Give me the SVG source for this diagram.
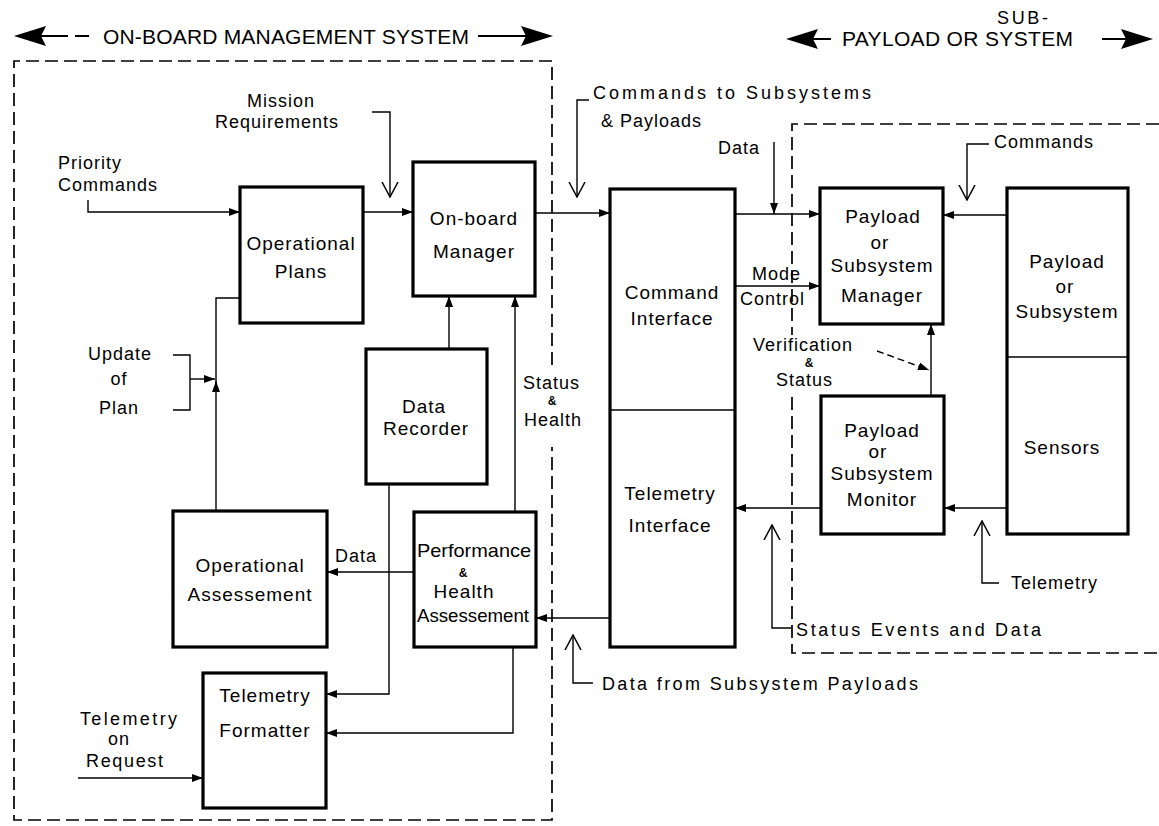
<svg xmlns="http://www.w3.org/2000/svg" width="1159" height="826" viewBox="0 0 1159 826">
<style>
text{font-family:"Liberation Sans",Arial,sans-serif;fill:#000}
.n{font-size:19px;letter-spacing:1px;text-anchor:middle}
.l{font-size:18px;letter-spacing:1px}
.h{font-size:21px;letter-spacing:1px}
.amp{font-size:12px;font-weight:bold;text-anchor:middle}
.box{fill:#fff;stroke:#000;stroke-width:3.2}
.div{stroke:#000;stroke-width:1.4;fill:none}
.c{fill:none;stroke:#000;stroke-width:1.4}
.dash{fill:none;stroke:#000;stroke-width:1.7;stroke-dasharray:13 6}
</style>
<defs>
<marker id="fa" viewBox="0 0 11 8" refX="11" refY="4" markerWidth="11" markerHeight="8" markerUnits="userSpaceOnUse" orient="auto"><path d="M0,0 L11,4 L0,8 z" fill="#000"/></marker>
<marker id="oa" viewBox="0 0 16 18" refX="15" refY="9" markerWidth="16" markerHeight="18" markerUnits="userSpaceOnUse" orient="auto"><path d="M0,1 L15,9 L0,17" fill="none" stroke="#000" stroke-width="1.5"/></marker>
</defs>

<g id="headers">
<polygon points="14,36 46,26 41,36 46,46" fill="#000"/>
<line x1="40" y1="36" x2="68" y2="36" stroke="#000" stroke-width="2"/>
<line x1="75" y1="36" x2="89" y2="36" stroke="#000" stroke-width="2"/>
<text class="h" x="103" y="44" textLength="367" lengthAdjust="spacing">ON-BOARD MANAGEMENT SYSTEM</text>
<line x1="478" y1="36" x2="527" y2="36" stroke="#000" stroke-width="2"/>
<polygon points="553,36 521,26 526,36 521,46" fill="#000"/>
<polygon points="786,39 818,29 813,39 818,49" fill="#000"/>
<line x1="812" y1="39" x2="831" y2="39" stroke="#000" stroke-width="2"/>
<text class="h" x="842" y="46" textLength="232" lengthAdjust="spacing">PAYLOAD  OR  SYSTEM</text>
<text class="l" x="997" y="24" textLength="52" lengthAdjust="spacing">SUB-</text>
<line x1="1102" y1="39" x2="1126" y2="39" stroke="#000" stroke-width="2"/>
<polygon points="1153,39 1121,29 1126,39 1121,49" fill="#000"/>
</g>

<g id="boundaries">
<path class="dash" d="M552,365 V61 H14 V820 H552 V447"/>
<path class="dash" d="M1159,124 H792 V335"/>
<path class="dash" d="M792,397 V653 H1159"/>
</g>

<g id="connectors">
<path class="c" d="M88,200 V212 H240" marker-end="url(#fa)"/>
<path class="c" d="M363,212 H413" marker-end="url(#fa)"/>
<path class="c" d="M372,112 H390 V197" marker-end="url(#oa)"/>
<path class="c" d="M535,213 H610" marker-end="url(#fa)"/>
<path class="c" d="M589,100 H577 V197" marker-end="url(#oa)"/>
<path class="c" d="M735,214 H820" marker-end="url(#fa)"/>
<path class="c" d="M774,142 V214" marker-end="url(#fa)"/>
<path class="c" d="M735,286 H820" marker-end="url(#fa)"/>
<path class="c" d="M1007,215 H943" marker-end="url(#fa)"/>
<path class="c" d="M989,144 H967 V200" marker-end="url(#oa)"/>
<path class="c" d="M931,396 V324" marker-end="url(#fa)"/>
<path class="c" d="M877,351 L929,370" stroke-dasharray="7 4" marker-end="url(#fa)"/>
<path class="c" d="M1007,508 H944" marker-end="url(#fa)"/>
<path class="c" d="M821,508 H735" marker-end="url(#fa)"/>
<path class="c" d="M999,583 H982 V521" marker-end="url(#oa)"/>
<path class="c" d="M791,628 H772 V525" marker-end="url(#oa)"/>
<path class="c" d="M610,618 H536" marker-end="url(#fa)"/>
<path class="c" d="M593,683 H573 V635" marker-end="url(#oa)"/>
<path class="c" d="M449,349 V296" marker-end="url(#fa)"/>
<path class="c" d="M515,512 V296" marker-end="url(#fa)"/>
<path class="c" d="M414,572 H327" marker-end="url(#fa)"/>
<path class="c" d="M389,484 V694 H326" marker-end="url(#fa)"/>
<path class="c" d="M513,647 V733 H326" marker-end="url(#fa)"/>
<path class="c" d="M78,778 H203" marker-end="url(#fa)"/>
<path class="c" d="M216,511 V381" marker-end="url(#fa)"/>
<path class="c" d="M216,385 V298 H240"/>
<path class="c" d="M173,355 H190 V410 H173"/>
<path class="c" d="M190,379 H215" marker-end="url(#fa)"/>
</g>

<g id="labels">
<text class="l" x="281" y="107" text-anchor="middle">Mission</text>
<text class="l" x="277" y="128" text-anchor="middle">Requirements</text>
<text class="l" x="58" y="169">Priority</text>
<text class="l" x="58" y="191">Commands</text>
<text class="l" x="120" y="360" text-anchor="middle">Update</text>
<text class="l" x="119" y="385" text-anchor="middle">of</text>
<text class="l" x="119" y="414" text-anchor="middle">Plan</text>
<text class="l" x="335" y="562">Data</text>
<text class="l" x="80" y="725" textLength="98" lengthAdjust="spacing">Telemetry</text>
<text class="l" x="119" y="745" text-anchor="middle">on</text>
<text class="l" x="86" y="767" textLength="78" lengthAdjust="spacing">Request</text>
<text class="l" x="523" y="389">Status</text>
<text class="amp" x="552" y="405">&amp;</text>
<text class="l" x="524" y="426">Health</text>
<text class="l" x="593" y="99" textLength="279" lengthAdjust="spacing">Commands to Subsystems</text>
<text class="l" x="601" y="127">&amp; Payloads</text>
<text class="l" x="718" y="154">Data</text>
<text class="l" x="752" y="280">Mode</text>
<text class="l" x="740" y="305">Control</text>
<text class="l" x="753" y="351">Verification</text>
<text class="amp" x="809" y="367">&amp;</text>
<text class="l" x="776" y="386">Status</text>
<text class="l" x="994" y="148">Commands</text>
<text class="l" x="1011" y="589">Telemetry</text>
<text class="l" x="796" y="636" textLength="246" lengthAdjust="spacing">Status Events and Data</text>
<text class="l" x="602" y="690" textLength="317" lengthAdjust="spacing">Data from Subsystem Payloads</text>
</g>

<g id="operational-plans">
<rect class="box" x="240" y="187" width="123" height="136"/>
<text class="n" x="301" y="250">Operational</text>
<text class="n" x="301" y="278">Plans</text>
</g>
<g id="on-board-manager">
<rect class="box" x="413" y="162" width="122" height="134"/>
<text class="n" x="474" y="225">On-board</text>
<text class="n" x="474" y="258">Manager</text>
</g>
<g id="data-recorder">
<rect class="box" x="366" y="349" width="121" height="135"/>
<text class="n" x="424" y="413">Data</text>
<text class="n" x="426" y="435">Recorder</text>
</g>
<g id="operational-assessement">
<rect class="box" x="173" y="511" width="154" height="136"/>
<text class="n" x="250" y="572">Operational</text>
<text class="n" x="250" y="601">Assessement</text>
</g>
<g id="performance-health">
<rect class="box" x="414" y="512" width="122" height="135"/>
<text class="n" x="474" y="557" textLength="114" lengthAdjust="spacingAndGlyphs" style="letter-spacing:0">Performance</text>
<text class="amp" x="463" y="577">&amp;</text>
<text class="n" x="464" y="598">Health</text>
<text class="n" x="473" y="622" textLength="112" lengthAdjust="spacingAndGlyphs" style="letter-spacing:0">Assessement</text>
</g>
<g id="telemetry-formatter">
<rect class="box" x="203" y="673" width="123" height="135"/>
<text class="n" x="265" y="702">Telemetry</text>
<text class="n" x="265" y="737">Formatter</text>
</g>
<g id="command-telemetry-interface">
<rect class="box" x="610" y="189" width="125" height="458"/>
<line class="div" x1="610" y1="410" x2="735" y2="410"/>
<text class="n" x="672" y="299">Command</text>
<text class="n" x="672" y="325">Interface</text>
<text class="n" x="670" y="500">Telemetry</text>
<text class="n" x="670" y="532">Interface</text>
</g>
<g id="subsystem-manager">
<rect class="box" x="820" y="188" width="123" height="136"/>
<text class="n" x="883" y="223">Payload</text>
<text class="n" x="880" y="249">or</text>
<text class="n" x="882" y="272">Subsystem</text>
<text class="n" x="882" y="302">Manager</text>
</g>
<g id="subsystem-monitor">
<rect class="box" x="821" y="396" width="123" height="138"/>
<text class="n" x="882" y="437">Payload</text>
<text class="n" x="878" y="458">or</text>
<text class="n" x="882" y="480">Subsystem</text>
<text class="n" x="882" y="506">Monitor</text>
</g>
<g id="payload-subsystem">
<rect class="box" x="1007" y="188" width="121" height="346"/>
<line class="div" x1="1007" y1="357" x2="1128" y2="357"/>
<text class="n" x="1067" y="268">Payload</text>
<text class="n" x="1065" y="293">or</text>
<text class="n" x="1067" y="318">Subsystem</text>
<text class="n" x="1062" y="454">Sensors</text>
</g>
</svg>
